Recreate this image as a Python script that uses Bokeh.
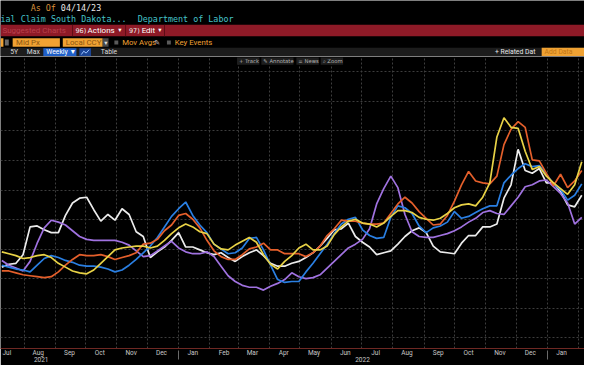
import datetime as dt
import pandas as pd
from bokeh.plotting import figure
from bokeh.layouts import column
from bokeh.models import (Range1d, FixedTicker, DatetimeTickFormatter, DatetimeAxis,
                          Grid, ColumnDataSource)
from bokeh.embed import file_html
from bokeh.resources import INLINE
from bokeh.core.properties import value

# ---------------- data (weekly) ----------------
week_start = "2021-07-10"
n_weeks = 83

white_series = [74, 77, 78, 87, 116, 117, 113, 110, 110, 128,
                141, 146, 147, 134, 122, 129, 123, 135, 129, 111,
                106, 84, 90, 95, 102, 110, 95, 95, 92, 89,
                87, 89, 84, 80, 85, 89, 92, 86, 78, 75,
                75, 78, 80, 84, 89, 96, 104, 113, 114, 120,
                106, 100, 95, 87, 89, 91, 98, 106, 112, 115,
                110, 96, 90, 89, 88, 99, 107, 107, 116, 116,
                119, 146, 160, 197, 175, 172, 177, 162, 162, 153,
                139, 137, 149]
purple_series = [81, 76, 73, 70, 80, 99, 115, 123, 121, 118,
                 112, 106, 103, 102, 102, 102, 102, 100, 97, 91,
                 85, 86, 91, 96, 101, 94, 90, 88, 88, 90,
                 85, 75, 65, 59, 55, 53, 53, 50, 54, 57,
                 61, 68, 64, 62, 63, 66, 73, 80, 87, 94,
                 98, 103, 114, 140, 156, 169, 157, 129, 111, 106,
                 105, 105, 107, 109, 112, 116, 121, 125, 131, 133,
                 130, 129, 138, 147, 158, 160, 164, 165, 158, 151,
                 141, 119, 126]
blue_series = [76, 74, 72, 71, 69, 76, 83, 86, 84, 81,
               79, 76, 75, 75, 74, 72, 69, 71, 76, 82,
               89, 96, 105, 116, 127, 135, 142, 128, 118, 110,
               98, 93, 88, 89, 94, 104, 105, 92, 76, 61,
               58, 59, 59, 69, 78, 88, 98, 109, 119, 124,
               126, 113, 107, 104, 105, 126, 138, 136, 130, 117,
               110, 115, 117, 121, 132, 125, 127, 131, 135, 138,
               138, 162, 170, 177, 182, 179, 180, 171, 161, 155,
               144, 149, 161]
orange_series = [70, 70, 68, 66, 65, 64, 63, 64, 69, 76,
                 82, 87, 86, 86, 87, 85, 82, 84, 86, 89,
                 98, 99, 103, 112, 118, 128, 130, 124, 115, 102,
                 91, 85, 82, 82, 87, 93, 95, 99, 92, 92,
                 88, 88, 88, 85, 89, 96, 107, 114, 123, 122,
                 122, 120, 119, 119, 120, 130, 140, 147, 141, 132,
                 125, 118, 119, 128, 143, 160, 174, 164, 162, 161,
                 169, 202, 218, 226, 220, 186, 185, 172, 159, 171,
                 157, 164, 175]
yellow_series = [90, 88, 86, 83, 84, 86, 87, 84, 78, 74,
                 70, 68, 67, 71, 78, 85, 92, 94, 95, 96,
                 96, 94, 96, 102, 109, 115, 119, 116, 111, 109,
                 98, 93, 92, 97, 101, 105, 100, 87, 77, 72,
                 80, 86, 94, 98, 92, 92, 96, 108, 116, 122,
                 124, 120, 119, 116, 120, 127, 133, 133, 131, 126,
                 124, 123, 125, 130, 136, 139, 140, 138, 147, 162,
                 210, 230, 220, 219, 195, 176, 179, 169, 162, 156,
                 150, 160, 184]

year_labels = ["2021", "2022"]
year_label_dates = ["2021-08-18", "2022-07-02"]
year_boundaries = ["2022-01-01", "2023-01-01"]

# ---------------- layout constants ----------------
W = 584
HEAD_H = 56
CHART_H = 309
BG = "#000000"
GRID = "#3d3d3d"
ORANGE_UI = "#f0a233"

dates = pd.date_range(week_start, periods=n_weeks, freq="7D")


def ms(d):
    return int(pd.Timestamp(d).timestamp() * 1000)


def add_texts(fig, items, font, size, **kw):
    src = ColumnDataSource(dict(x=[i[0] for i in items], y=[i[1] for i in items],
                                t=[i[2] for i in items], c=[i[3] for i in items]))
    fig.text(x="x", y="y", text="t", text_color="c", source=src,
             text_font=value(font), text_font_size=size,
             text_baseline="middle", text_align="left", **kw)


def add_quads(fig, items, **kw):
    src = ColumnDataSource(dict(l=[i[0] for i in items], r=[i[1] for i in items],
                                t=[i[2] for i in items], b=[i[3] for i in items],
                                c=[i[4] for i in items]))
    fig.quad(left="l", right="r", top="t", bottom="b", fill_color="c",
             line_color=None, source=src, **kw)


# ---------------- header ----------------
head = figure(width=W, height=HEAD_H, x_range=Range1d(0, 600), y_range=Range1d(58, 0),
              toolbar_location=None, output_backend="svg", min_border=0,
              x_axis_location=None, y_axis_location=None)
head.background_fill_color = BG
head.border_fill_color = BG
head.outline_line_color = None
head.grid.visible = False

add_quads(head, [
    (0, 600, 25, 37, "#8e1a27"),
    (73.5, 74.5, 25, 37, "#5c0d16"),
    (128, 129, 25, 37, "#5c0d16"),
    (168, 169, 25, 37, "#5c0d16"),
    (0, 3, 39, 48, ORANGE_UI),
    (4.5, 8.5, 40.5, 46.5, "#6a6a6a"),
    (12.5, 61, 39, 48, ORANGE_UI),
    (64, 105, 39, 48, ORANGE_UI),
    (105, 111, 39, 48, "#4a4a4a"),
    (117, 121, 41.5, 45.5, "#5a5a5a"),
    (171, 175, 41.5, 45.5, "#5a5a5a"),
    (0, 600, 49, 58, "#1c1c1c"),
    (44, 78, 49.5, 57.5, "#1f5fc8"),
    (81, 93, 49.5, 57.5, "#1b4596"),
    (556, 600, 49, 58, ORANGE_UI),
])
head.line([83, 85.5, 88, 91], [56, 52.5, 54.5, 51], line_color="#9cc2ff", line_width=1)

add_texts(head, [
    (31, 7.5, "As Of", "#d9913a"),
    (62, 7.5, "04/14/23", "#e8e8e8"),
    (0, 19, "ial Claim South Dakota...", "#45c2c8"),
    (141, 19, "Department of Labor", "#45c2c8"),
], "DejaVu Sans Mono", "8.4px")

add_texts(head, [
    (2, 31, "Suggested Charts", "#b8404d"),
    (89.5, 31, "Actions", "#ffffff"),
    (145, 31, "Edit", "#ffffff"),
], "Roboto", "8px")
add_texts(head, [
    (77, 31.3, "96)", "#f0f0f0"),
    (132, 31.3, "97)", "#f0f0f0"),
    (121, 31, "▾", "#ffffff"),
    (162, 31, "▾", "#ffffff"),
    (106.5, 43.5, "▾", "#dddddd"),
], "DejaVu Sans", "6.5px")
add_texts(head, [
    (16, 43.6, "Mid Px", "#8a5510"),
    (67, 43.6, "Local CCY", "#8a5510"),
    (125, 43.6, "Mov Avgs", ORANGE_UI),
    (179, 43.6, "Key Events", ORANGE_UI),
], "Roboto", "7.8px")
add_texts(head, [(158, 43.5, "✎", "#cccccc")], "DejaVu Sans", "7px")
add_texts(head, [
    (10, 53.6, "5Y", "#dddddd"),
    (27, 53.6, "Max", "#dddddd"),
    (47, 53.6, "Weekly ▼", "#ffffff"),
    (103, 53.6, "Table", "#dddddd"),
    (508, 53.6, "+ Related Dat", "#e8e8e8"),
    (559, 53.6, "Add Data", "#c27614"),
], "Roboto", "6.8px")

# ---------------- chart ----------------
x0 = dt.datetime(2021, 7, 8, 17)
x1 = dt.datetime(2023, 2, 6, 17)
p = figure(width=W, height=CHART_H, x_axis_type="datetime",
           x_range=Range1d(x0, x1), y_range=Range1d(-11, 294),
           toolbar_location=None, output_backend="svg",
           min_border_left=0, min_border_right=0, min_border_top=0, min_border_bottom=17,
           y_axis_location=None)
p.background_fill_color = BG
p.border_fill_color = BG
p.outline_line_color = None
p.grid.visible = False
p.extra_x_ranges = {"px": Range1d(0, 600)}
p.extra_y_ranges = {"px": Range1d(363, 58)}

month_starts = pd.date_range("2021-08-01", "2023-02-01", freq="MS")
mid_months = [d + pd.Timedelta(days=14) for d in pd.date_range("2021-07-01", "2023-01-01", freq="MS")]
y_grid = [round(30.9 * k, 1) for k in range(10)]

p.add_layout(Grid(dimension=0, ticker=FixedTicker(ticks=[ms(d) for d in month_starts]),
                  grid_line_color=GRID, grid_line_dash="2 2", grid_line_width=1))
p.add_layout(Grid(dimension=1, ticker=FixedTicker(ticks=y_grid),
                  grid_line_color=GRID, grid_line_dash="2 2", grid_line_width=1))

series = [
    (white_series, "#ececec"),
    (purple_series, "#a072e0"),
    (blue_series, "#2a7fe2"),
    (orange_series, "#e45f2b"),
    (yellow_series, "#e8d246"),
]
for vals, col in series:
    p.line(dates, vals, line_color=col, line_width=1.7)

fmt_month = dict((k, "%b") for k in ["microseconds", "milliseconds", "seconds", "minsec", "minutes",
                                     "hourmin", "hours", "days", "months", "years"])
fmt_year = dict((k, "%Y") for k in fmt_month)

ax = p.xaxis[0]
ax.ticker = FixedTicker(ticks=[ms(d) for d in mid_months])
ax.formatter = DatetimeTickFormatter(**fmt_month)
ax.axis_line_color = "#6e2823"
ax.axis_line_width = 1
ax.major_tick_line_color = None
ax.major_tick_out = 0
ax.major_tick_in = 0
ax.minor_tick_line_color = None
ax.minor_tick_in = 0
ax.minor_tick_out = 0
ax.major_label_standoff = 0
ax.major_label_text_font = "Roboto"
ax.major_label_text_font_size = "6.5px"
ax.major_label_text_color = "#c8c8c8"

ax2 = DatetimeAxis(ticker=FixedTicker(ticks=[ms(d) for d in year_label_dates],
                                      minor_ticks=[ms(d) for d in year_boundaries]),
                   formatter=DatetimeTickFormatter(**fmt_year))
ax2.axis_line_color = None
ax2.major_tick_line_color = None
ax2.major_tick_out = 0
ax2.major_tick_in = 0
ax2.minor_tick_line_color = "#6a6a6a"
ax2.minor_tick_in = 9
ax2.minor_tick_out = 0
ax2.major_label_standoff = -3
ax2.major_label_text_font = "Roboto"
ax2.major_label_text_font_size = "6.5px"
ax2.major_label_text_color = "#c8c8c8"
p.add_layout(ax2, "below")

# chart tool buttons
add_quads(p, [
    (243, 266, 59, 66.5, "#1e1e1e"),
    (268, 301, 59, 66.5, "#1e1e1e"),
    (304, 327, 59, 66.5, "#1e1e1e"),
    (329, 352, 59, 66.5, "#1e1e1e"),
], x_range_name="px", y_range_name="px")
add_texts(p, [
    (245, 62.8, "+ Track", "#b4b4b4"),
    (270, 62.8, "✎ Annotate", "#b4b4b4"),
    (306, 62.8, "≡ News", "#b4b4b4"),
    (331, 62.8, "⌕ Zoom", "#b4b4b4"),
], "DejaVu Sans", "5.3px", x_range_name="px", y_range_name="px")

layout = column(head, p, spacing=0)
open("out.html", "w").write(file_html(layout, INLINE))
